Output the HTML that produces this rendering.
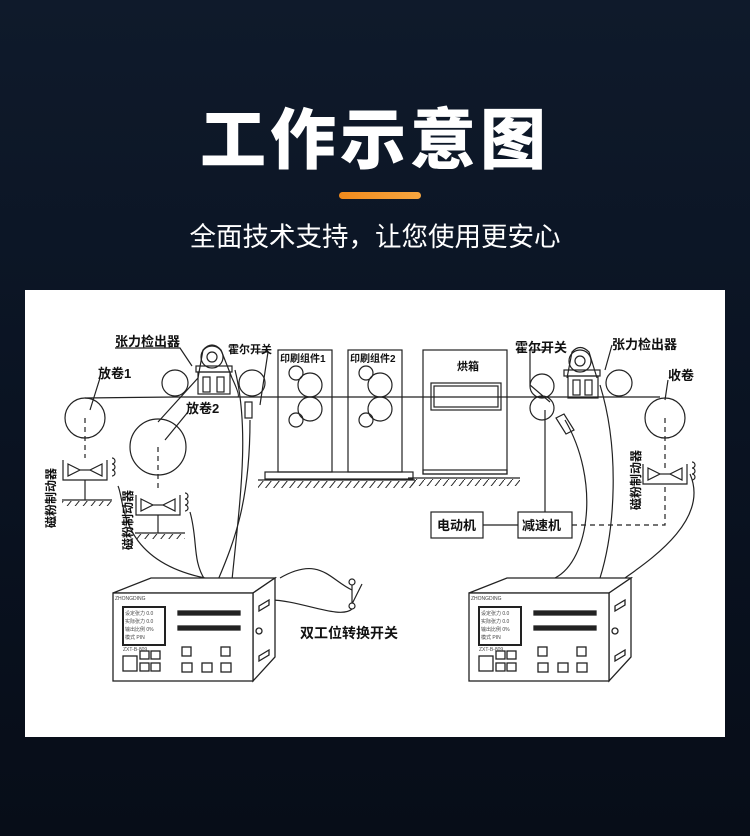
<!DOCTYPE html>
<html><head><meta charset="utf-8"><style>
html,body{margin:0;padding:0}
body{width:750px;height:836px;overflow:hidden;position:relative;background:linear-gradient(180deg,#0f1a2b 0%,#0a1322 50%,#070d18 100%);font-family:"Liberation Sans","Noto Sans CJK SC",sans-serif}
.t{position:absolute;left:0;width:750px;text-align:center;color:#fff}
</style></head><body>
<div class="t" style="top:100px;font-size:66px;font-weight:900;letter-spacing:4px;line-height:80px">工作示意图</div>
<div style="position:absolute;left:339px;top:192px;width:82px;height:7px;border-radius:4px;background:linear-gradient(90deg,#f08a1c,#f6a640)"></div>
<div class="t" style="top:220px;font-size:26.5px;line-height:34px">全面技术支持，让您使用更安心</div>
<svg style="position:absolute;left:0;top:0" width="750" height="836" font-family="Liberation Sans, Noto Sans CJK SC, sans-serif">
<defs>
<pattern id="h" width="8" height="10" patternUnits="userSpaceOnUse"><line x1="8" y1="0" x2="0" y2="10" stroke="#222" stroke-width="1"/></pattern>
<g id="ctl" fill="#fff" stroke="#222" stroke-width="1.3">
<path d="M0,0 L38,-15 L162,-15 L140,0 Z"/>
<path d="M140,0 L162,-15 L162,64 L140,88 Z"/>
<rect x="0" y="0" width="140" height="88"/>
<rect x="10" y="14" width="42" height="38" stroke-width="2"/>
<rect x="65" y="18" width="62" height="4" fill="#222"/>
<rect x="65" y="33" width="62" height="4" fill="#222"/>
<rect x="10" y="63" width="14" height="15"/>
<rect x="27" y="58" width="9" height="8"/><rect x="38" y="58" width="9" height="8"/>
<rect x="27" y="70" width="9" height="8"/><rect x="38" y="70" width="9" height="8"/>
<rect x="69" y="54" width="9" height="9"/><rect x="108" y="54" width="9" height="9"/>
<rect x="69" y="70" width="10" height="9"/><rect x="89" y="70" width="10" height="9"/><rect x="108" y="70" width="10" height="9"/>
<circle cx="146" cy="38" r="3"/>
<path d="M146,13 l10,-6 v5 l-10,6Z M146,63 l10,-6 v5 l-10,6Z"/>
<g stroke="none" fill="#444" font-size="5"><text x="12" y="22">设定张力 0.0</text><text x="12" y="30">实际张力 0.0</text><text x="12" y="38">输出比例 0%</text><text x="12" y="46">模式 PIN</text><text x="2" y="7">ZHONGDING</text><text x="10" y="58">ZXT-B-809</text></g>
</g>
<g id="brk" fill="none" stroke="#222" stroke-width="1.2">
<path d="M-22,-10 v20 h44 v-20"/><path d="M-17,-6 l12,6 l-12,6Z M17,-6 l-12,6 l12,6Z"/><line x1="-5" y1="0" x2="5" y2="0"/>
<path d="M27,-12 a3,3 0 0 1 0,6 a3,3 0 0 1 0,6 a3,3 0 0 1 0,6"/>
</g>
</defs>
<rect x="25" y="290" width="700" height="447" fill="#fff"/>
<g fill="none" stroke="#222" stroke-width="1.2">
<path d="M85,398 L175,397 L660,397"/>
<path d="M158,422 L198,378 L203,350 Q212,340 221,350 L232,378"/>
<path d="M232,378 Q240,395 238,397"/>
<circle cx="85" cy="418" r="20"/>
<circle cx="158" cy="447" r="28"/>
<circle cx="175" cy="383" r="13"/>
<circle cx="252" cy="383" r="13"/>
<circle cx="212" cy="357" r="11"/><circle cx="212" cy="357" r="5"/>
<rect x="196" y="366" width="36" height="6"/><rect x="198" y="372" width="32" height="22"/>
<rect x="203" y="377" width="7" height="15"/><rect x="217" y="377" width="7" height="15"/>
<rect x="245" y="402" width="7" height="16"/>
<path d="M85,418 v40 M158,447 v45 M665,418 v50" stroke-dasharray="5,4"/>
<use href="#brk" x="85" y="470"/>
<use href="#brk" x="158" y="505"/>
<use href="#brk" x="665" y="474"/>
<path d="M85,480 v20 M62,500 h50 M158,515 v18 M135,533 h50"/>
<rect x="62" y="501" width="50" height="5" fill="url(#h)" stroke="none"/>
<rect x="135" y="534" width="50" height="5" fill="url(#h)" stroke="none"/>
<rect x="278" y="350" width="54" height="122"/><rect x="348" y="350" width="54" height="122"/>
<g><circle cx="296" cy="373" r="7"/><circle cx="310" cy="385" r="12"/><circle cx="310" cy="409" r="12"/><circle cx="296" cy="420" r="7"/></g>
<g transform="translate(70,0)"><circle cx="296" cy="373" r="7"/><circle cx="310" cy="385" r="12"/><circle cx="310" cy="409" r="12"/><circle cx="296" cy="420" r="7"/></g>
<rect x="265" y="472" width="148" height="7"/><line x1="258" y1="480" x2="415" y2="480"/>
<rect x="258" y="481" width="157" height="7" fill="url(#h)" stroke="none"/>
<rect x="423" y="350" width="84" height="124"/><rect x="423" y="470" width="84" height="4"/>
<rect x="431" y="383" width="70" height="27"/><rect x="434" y="386" width="64" height="21"/>
<line x1="408" y1="478" x2="520" y2="478"/><rect x="408" y="479" width="112" height="7" fill="url(#h)" stroke="none"/>
<circle cx="542" cy="386" r="12"/><circle cx="542" cy="408" r="12"/>
<circle cx="580" cy="361" r="11"/><circle cx="580" cy="361" r="5"/>
<path d="M567,378 L572,352 Q580,343 589,352 L597,378"/>
<rect x="564" y="370" width="36" height="6"/><rect x="568" y="376" width="30" height="22"/>
<rect x="573" y="380" width="7" height="15"/><rect x="585" y="380" width="7" height="15"/>
<circle cx="619" cy="383" r="13"/>
<circle cx="665" cy="418" r="20"/>
<path d="M556,418 l8,-4 l10,16 l-8,4Z"/>
<line x1="545" y1="410" x2="545" y2="512"/>
<rect x="431" y="512" width="52" height="26"/><rect x="518" y="512" width="54" height="26"/>
<line x1="483" y1="525" x2="518" y2="525"/>
<path d="M572,525 H665 V484" stroke-dasharray="5,4"/>
<path d="M115,348 H180 L192,366 M100,378 L90,410 M188,412 L165,440 M255,352 H268 L260,405 M550,350 H530 V385 L550,402 M612,345 L605,370 M668,380 L665,400"/>
<path d="M235,370 C250,430 240,500 232,580 M250,420 C250,500 235,540 218,580 M190,512 C198,540 192,560 205,580 M118,486 C125,500 118,560 205,578 M280,578 C320,555 330,580 352,590"/>
<path d="M352,584 v20 L362,584" /><circle cx="352" cy="582" r="3" fill="#fff"/><circle cx="352" cy="606" r="3" fill="#fff"/>
<path d="M352,609 C340,620 300,600 270,600"/>
<path d="M565,420 C600,480 590,560 555,578 M600,385 C620,450 615,530 600,578 M690,474 C710,520 650,560 625,578"/>
</g>
<use href="#ctl" x="113" y="593"/>
<use href="#ctl" x="469" y="593"/>
<g font-size="13" font-weight="bold" fill="#111">
<text x="115" y="346">张力检出器</text>
<text x="98" y="378">放卷1</text>
<text x="186" y="413">放卷2</text>
<text x="228" y="353" font-size="11">霍尔开关</text>
<text x="280" y="362" font-size="10">印刷组件1</text>
<text x="350" y="362" font-size="10">印刷组件2</text>
<text x="457" y="370" font-size="11">烘箱</text>
<text x="515" y="352">霍尔开关</text>
<text x="612" y="349">张力检出器</text>
<text x="668" y="380">收卷</text>
<text x="437" y="530">电动机</text>
<text x="522" y="530">减速机</text>
<text x="300" y="638" font-size="14">双工位转换开关</text>
<text font-size="12" transform="translate(55,528) rotate(-90)">磁粉制动器</text>
<text font-size="12" transform="translate(132,550) rotate(-90)">磁粉制动器</text>
<text font-size="12" transform="translate(640,510) rotate(-90)">磁粉制动器</text>
</g>
</svg>
</body></html>
